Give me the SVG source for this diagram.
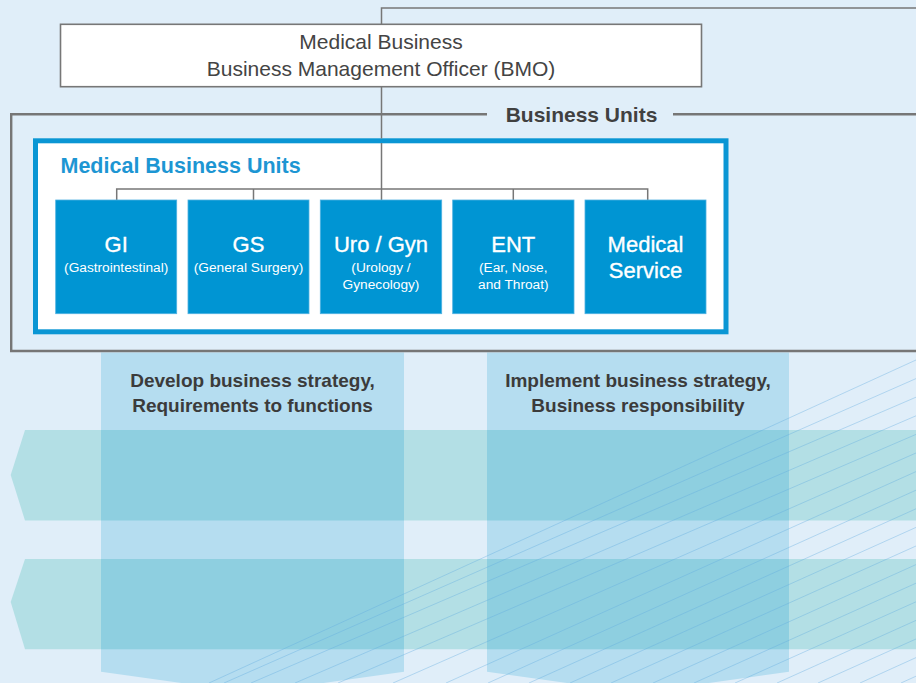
<svg xmlns="http://www.w3.org/2000/svg" width="916" height="683" viewBox="0 0 916 683">
<style>
text{font-family:"Liberation Sans",Arial,Helvetica,sans-serif}
.conn{fill:none;stroke:#777;stroke-width:1.5}
.frame{fill:none;stroke:#767676;stroke-width:2.4}
.unit{fill:#0095d3;stroke:#4fb1e2;stroke-width:0.8}
.ut{fill:#fff;font-size:22px;text-anchor:middle;stroke:#fff;stroke-width:0.35}
.us{fill:#fff;font-size:13.7px;text-anchor:middle}
.band{fill:#b3dfe5}
.col{fill:#b5ddf0}
.ovl{fill:#8ecfe0}
.dk{fill:#3b3b3b;font-size:19px;font-weight:bold;text-anchor:middle}
.hatch{fill:none;stroke:#5fa9df;stroke-opacity:0.5;stroke-width:0.75}
</style>
<rect x="0" y="0" width="916" height="683" fill="#e0eef9"/>

<g id="bands">
<polygon class="band" points="25,430 916,430 916,520.5 25,520.5 10.7,475"/>
<polygon class="band" points="25,559 916,559 916,649.3 25,649.3 10.7,602"/>
</g>

<g id="columns">
<polygon class="col" points="101,352.5 404,352.5 404,671.7 252.5,693 101,671.7"/>
<polygon class="col" points="487,352.5 789,352.5 789,671.7 638,693 487,671.7"/>
<rect class="ovl" x="101" y="430" width="303" height="90.5"/>
<rect class="ovl" x="101" y="559" width="303" height="90.3"/>
<rect class="ovl" x="487" y="430" width="302" height="90.5"/>
<rect class="ovl" x="487" y="559" width="302" height="90.3"/>
<text class="dk" x="252.5" y="386.7">Develop business strategy,</text>
<text class="dk" x="252.5" y="411.7">Requirements to functions</text>
<text class="dk" x="638" y="386.7">Implement business strategy,</text>
<text class="dk" x="638" y="411.7">Business responsibility</text>
</g>

<path class="hatch" d="M209,683L916,360 M224,683L916,378.6 M251,683L916,397.2 M295,683L916,415.8 M338,683L916,434.4 M393,683L916,453 M446,683L916,471.6 M488,683L916,490.2 M529,683L916,508.8 M570,683L916,527.4 M611,683L916,546 M653,683L916,564.6 M694,683L916,583.2 M735,683L916,601.8 M777,683L916,620.4 M818,683L916,639 M860,683L916,657.6 M901,683L916,676.2"/>

<g id="business-units-frame">
<path class="frame" d="M487,114.3H11.2V351H920 M673,114.3H920"/>
<text x="581.5" y="121.7" fill="#404040" font-size="21" font-weight="bold" text-anchor="middle">Business Units</text>
</g>

<g id="bmo">
<rect x="60.5" y="24.3" width="641" height="62.4" fill="#fff" stroke="#777" stroke-width="1.6"/>
<text x="381" y="49.3" fill="#444" font-size="21" text-anchor="middle">Medical Business</text>
<text x="381" y="76" fill="#444" font-size="21" text-anchor="middle">Business Management Officer (BMO)</text>
</g>

<g id="medical-business-units">
<rect x="35.5" y="140.8" width="690.5" height="191" fill="#fff" stroke="#0a96d4" stroke-width="5"/>
<text x="60.5" y="172.7" fill="#1d96d3" font-size="21.5" font-weight="bold">Medical Business Units</text>
</g>

<g id="connectors">
<path class="conn" d="M916,8H381.5V24.3"/>
<path class="conn" d="M381.5,86.7V138.5 M381.5,143V200"/>
<path class="conn" d="M116.7,200V189H647.7V200 M253.5,189V200 M513.3,189V200"/>
</g>

<g id="unit-gi">
<rect class="unit" x="55.7" y="200" width="121" height="113.7"/>
<text class="ut" x="116.2" y="251.7">GI</text>
<text class="us" x="116.2" y="271.7">(Gastrointestinal)</text>
</g>
<g id="unit-gs">
<rect class="unit" x="188" y="200" width="121" height="113.7"/>
<text class="ut" x="248.5" y="251.7">GS</text>
<text class="us" x="248.5" y="271.7">(General Surgery)</text>
</g>
<g id="unit-uro-gyn">
<rect class="unit" x="320.3" y="200" width="121.4" height="113.7"/>
<text class="ut" x="381" y="251.7">Uro / Gyn</text>
<text class="us" x="381" y="271.7">(Urology /</text>
<text class="us" x="381" y="289.3">Gynecology)</text>
</g>
<g id="unit-ent">
<rect class="unit" x="452.7" y="200" width="121.3" height="113.7"/>
<text class="ut" x="513.3" y="251.7">ENT</text>
<text class="us" x="513.3" y="271.7">(Ear, Nose,</text>
<text class="us" x="513.3" y="289.3">and Throat)</text>
</g>
<g id="unit-medical-service">
<rect class="unit" x="585" y="200" width="121" height="113.7"/>
<text class="ut" x="645.5" y="251.7">Medical</text>
<text class="ut" x="645.5" y="278.3">Service</text>
</g>
</svg>
